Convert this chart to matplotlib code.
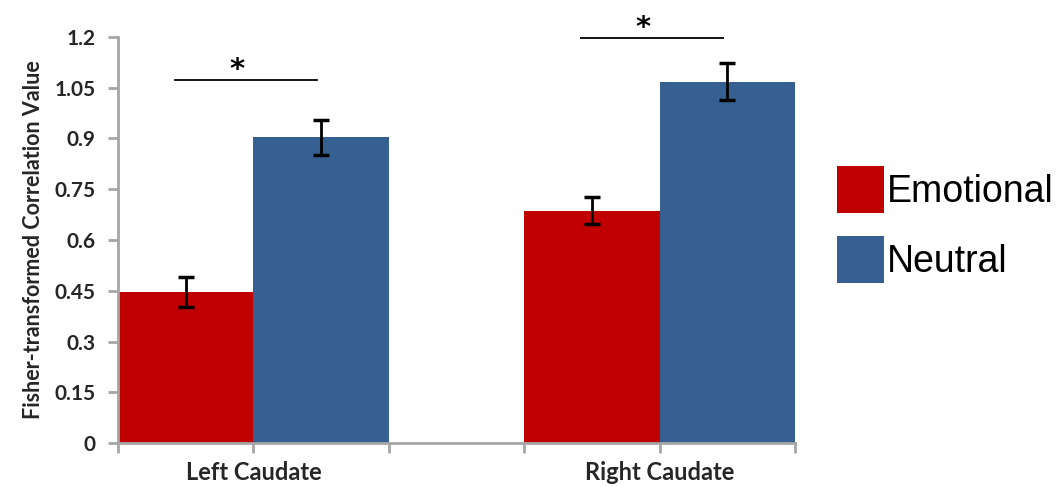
import numpy as np
import matplotlib
matplotlib.use('Agg')
import matplotlib.pyplot as plt
from matplotlib.patches import Patch

regions = ["Left Caudate", "Right Caudate"]
emotional = [0.446, 0.686]
emotional_err = [0.045, 0.04]
neutral = [0.904, 1.068]
neutral_err = [0.052, 0.054]
sig_marks = ["*", "*"]
sig_heights = [1.073, 1.197]
y_ticks = [0, 0.15, 0.3, 0.45, 0.6, 0.75, 0.9, 1.05, 1.2]
y_tick_labels = ["0", "0.15", "0.3", "0.45", "0.6", "0.75", "0.9", "1.05", "1.2"]

red = '#c00000'
blue = '#366092'
grey = '#a6a6a6'
txt = '#262626'

fig = plt.figure(figsize=(10.61, 4.87), dpi=100)
ax = fig.add_axes([118 / 1061, 44 / 487, 677 / 1061, 406 / 487])

group_x = np.array([1, 4])
ax.bar(group_x - 0.5, emotional, width=1, color=red, yerr=emotional_err,
       error_kw=dict(ecolor='black', elinewidth=2, capsize=6, capthick=2.5))
ax.bar(group_x + 0.5, neutral, width=1, color=blue, yerr=neutral_err,
       error_kw=dict(ecolor='black', elinewidth=2, capsize=6, capthick=2.5))

# significance bars
for i, gx in enumerate(group_x):
    y_line = sig_heights[i]
    ax.plot([gx - 0.58, gx + 0.47], [y_line, y_line], color='black', lw=1.3, clip_on=False)
    ax.text(gx - 0.12, y_line - 0.012, sig_marks[i], ha='center', va='bottom',
            fontsize=21, fontweight='bold', clip_on=False)

ax.set_xlim(0, 5)
ax.set_ylim(0, 1.2)
ax.set_yticks(y_ticks)
ax.set_yticklabels(y_tick_labels, fontsize=15, fontweight='bold', color=txt, family='Lato')
ax.set_xticks([0, 1, 2, 3, 4, 5])
ax.set_xticklabels(["", regions[0], "", "", regions[1], ""], fontsize=17,
                   fontweight='bold', color=txt, family='Lato')
ax.tick_params(axis='both', color=grey, width=2, length=7)
ax.tick_params(axis='x', pad=6)
ax.tick_params(axis='y', pad=9)
for side in ['top', 'right']:
    ax.spines[side].set_visible(False)
for side in ['left', 'bottom']:
    ax.spines[side].set_color(grey)
    ax.spines[side].set_linewidth(2)

ax.set_ylabel("Fisher-transformed Correlation Value", fontsize=15.5, fontweight='bold',
              color=txt, family='Lato', labelpad=8)

handles = [Patch(facecolor=red, label="Emotional"), Patch(facecolor=blue, label="Neutral")]
fig.legend(handles=handles, loc='upper left', bbox_to_anchor=(837 / 1061, 1 - 166 / 487),
           frameon=False, handlelength=1.25, handleheight=1.55, borderpad=0, borderaxespad=0,
           handletextpad=0.08, labelspacing=0.62, prop={'family': 'Liberation Sans', 'size': 27})

plt.savefig('out.png', dpi=100)
